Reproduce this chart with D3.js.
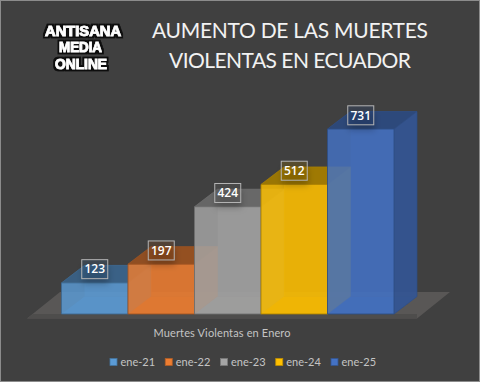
<!DOCTYPE html>
<html>
<head>
<meta charset="utf-8">
<script src="https://cdn.jsdelivr.net/npm/d3@7"></script>
<style>
  html, body { margin: 0; padding: 0; background: #404040; }
  svg { display: block; }
  text { font-family: Lato, "Open Sans", sans-serif; }
</style>
</head>
<body>
<div id="chart"></div>
<script>
// Chart data
const categories = ['ene-21', 'ene-22', 'ene-23', 'ene-24', 'ene-25'];
const values = [123, 197, 424, 512, 731];
const colors = ['#5b9bd5', '#ed7d31', '#a5a5a5', '#ffc000', '#4472c4'];
const titleLines = ['AUMENTO DE LAS MUERTES', 'VIOLENTAS EN ECUADOR'];
const logoLines = ['ANTISANA', 'MEDIA', 'ONLINE'];
const xAxisTitle = 'Muertes Violentas en Enero';

const width = 480;
const height = 382;
// offset of the back of the 3D boxes
const depthX = 23;
const depthY = -17.5;

const svg = d3.select('#chart')
  .append('svg')
  .attr('width', width)
  .attr('height', height);

const defs = svg.append('defs');
defs.append('filter')
  .attr('id', 'blur')
  .attr('x', '-50%').attr('y', '-50%')
  .attr('width', '200%').attr('height', '200%')
  .append('feGaussianBlur')
  .attr('stdDeviation', 3);

// White letters with a dark halo for the logo
const logoFilter = defs.append('filter')
  .attr('id', 'logo-outline')
  .attr('x', '-20%').attr('y', '-40%')
  .attr('width', '140%').attr('height', '180%');
logoFilter.append('feMorphology')
  .attr('in', 'SourceAlpha').attr('operator', 'dilate')
  .attr('radius', 2).attr('result', 'wide');
logoFilter.append('feFlood')
  .attr('flood-color', '#0c0c0c').attr('result', 'dark');
logoFilter.append('feComposite')
  .attr('in', 'dark').attr('in2', 'wide').attr('operator', 'in').attr('result', 'halo');
const logoMerge = logoFilter.append('feMerge');
logoMerge.append('feMergeNode').attr('in', 'halo');
logoMerge.append('feMergeNode').attr('in', 'SourceGraphic');

// Background and outer border
svg.append('rect')
  .attr('width', width)
  .attr('height', height)
  .attr('fill', '#404040');
svg.append('rect')
  .attr('x', 0.5).attr('y', 0.5)
  .attr('width', width - 1).attr('height', height - 1)
  .attr('fill', 'none')
  .attr('stroke', '#8c8c8c');

// Scales
const x = d3.scaleBand()
  .domain(categories)
  .range([61.5, 394])
  .padding(0);

const y = d3.scaleLinear()
  .domain([0, d3.max(values)])
  .range([314, 129]);

const base = y(0);

// Floor
svg.append('path')
  .attr('d', 'M27,318.5 L60,292 L450,292 L417,318.5 Z')
  .attr('fill', '#595756');
svg.append('path')
  .attr('d', 'M27,318.5 L33,314 L417,314 L417,318.5 Z')
  .attr('fill', '#4e4d4c');

function poly(points) {
  return 'M' + points.map(p => p.join(',')).join('L') + 'Z';
}

// Bars, drawn one by one so the front ones overlap the back of the earlier ones
categories.forEach((cat, i) => {
  const x0 = x(cat);
  const x1 = x0 + x.bandwidth();
  const top = y(values[i]);
  const color = colors[i];
  const edge = d3.color(color).darker(1.1);
  const g = svg.append('g').attr('stroke-linejoin', 'round');

  const faces = [
    // back
    { pts: [[x0 + depthX, top + depthY], [x1 + depthX, top + depthY], [x1 + depthX, base + depthY], [x0 + depthX, base + depthY]], fill: d3.color(color).darker(0.25), op: 0.5 },
    // left
    { pts: [[x0, top], [x0 + depthX, top + depthY], [x0 + depthX, base + depthY], [x0, base]], fill: d3.color(color).darker(0.2), op: 0.25 },
    // bottom
    { pts: [[x0, base], [x1, base], [x1 + depthX, base + depthY], [x0 + depthX, base + depthY]], fill: d3.color(color).darker(0.4), op: 0.7 },
    // right
    { pts: [[x1, top], [x1 + depthX, top + depthY], [x1 + depthX, base + depthY], [x1, base]], fill: d3.color(color).darker(0.85), op: 0.85 },
    // top
    { pts: [[x0, top], [x1, top], [x1 + depthX, top + depthY], [x0 + depthX, top + depthY]], fill: d3.color(color).darker(1.3), op: 0.9 },
    // front
    { pts: [[x0, top], [x1, top], [x1, base], [x0, base]], fill: color, op: 0.78 }
  ];

  g.selectAll('path')
    .data(faces)
    .enter()
    .append('path')
    .attr('d', d => poly(d.pts))
    .attr('fill', d => d.fill)
    .attr('fill-opacity', d => d.op)
    .attr('stroke', 'none');

  // Edges only on the faces that show them
  g.append('path')
    .attr('d', poly(faces[5].pts))
    .attr('fill', 'none')
    .attr('stroke', edge)
    .attr('stroke-opacity', 0.85);
  g.append('path')
    .attr('d', `M${x1},${top}L${x1 + depthX},${top + depthY}L${x1 + depthX},${base + depthY}L${x1},${base}`)
    .attr('fill', 'none')
    .attr('stroke', edge)
    .attr('stroke-opacity', 0.7);
  g.append('path')
    .attr('d', `M${x0},${top}L${x0 + depthX},${top + depthY}L${x1 + depthX},${top + depthY}`)
    .attr('fill', 'none')
    .attr('stroke', edge)
    .attr('stroke-opacity', 0.7);
});

// Data labels
const labels = svg.append('g');
categories.forEach((cat, i) => {
  const cx = x(cat) + x.bandwidth() / 2;
  const cy = y(values[i]) - 13.7;

  labels.append('rect')
    .attr('x', cx - 12).attr('y', cy - 3)
    .attr('width', 26).attr('height', 18)
    .attr('fill', '#000')
    .attr('fill-opacity', 0.22)
    .attr('filter', 'url(#blur)');
  labels.append('rect')
    .attr('x', cx - 13).attr('y', cy - 9.5)
    .attr('width', 26).attr('height', 19)
    .attr('fill', d3.color(colors[i]).darker(1.3))
    .attr('fill-opacity', 0.25)
    .attr('stroke', '#b4b4b4')
    .attr('stroke-width', 1);
  labels.append('text')
    .attr('x', cx).attr('y', cy + 4.2)
    .attr('text-anchor', 'middle')
    .attr('fill', '#fff')
    .attr('font-size', 12)
    .attr('font-weight', 600)
    .style('font-family', '"Open Sans", sans-serif')
    .text(values[i]);
});

// Title
svg.append('g')
  .selectAll('text')
  .data(titleLines)
  .enter()
  .append('text')
  .attr('x', 290)
  .attr('y', (d, i) => 38 + i * 29.5)
  .attr('text-anchor', 'middle')
  .attr('fill', '#f2f2f2')
  .attr('font-size', 21)
  .attr('textLength', (d, i) => [276, 242][i])
  .text(d => d);

// Logo text, stretched vertically to get the tall hand drawn letters
const logoY = [35.5, 52, 68.5];
const logoX = [83, 80.5, 81];
const logoLengths = [76, 43, 52];
const logo = svg.append('g').attr('filter', 'url(#logo-outline)');
logoLines.forEach((line, i) => {
  logo.append('text')
    .attr('transform', `translate(${logoX[i]},${logoY[i]}) scale(1,1.15)`)
    .attr('text-anchor', 'middle')
    .attr('font-weight', 700)
    .attr('font-size', 12.5)
    .attr('textLength', logoLengths[i])
    .attr('lengthAdjust', 'spacingAndGlyphs')
    .attr('fill', '#fff')
    .attr('stroke', '#fff')
    .attr('stroke-width', 0.6)
    .style('font-family', '"Liberation Sans", sans-serif')
    .text(line);
});

// Axis title
svg.append('text')
  .attr('x', 222)
  .attr('y', 337)
  .attr('text-anchor', 'middle')
  .attr('fill', '#c4c4c4')
  .attr('font-size', 11)
  .attr('textLength', 137)
  .text(xAxisTitle);

// Legend
const legendX = d3.scalePoint()
  .domain(categories)
  .range([110, 331]);

const legend = svg.append('g')
  .selectAll('g')
  .data(categories)
  .enter()
  .append('g')
  .attr('transform', d => `translate(${legendX(d)},362)`);

legend.append('rect')
  .attr('x', 0).attr('y', -3.5)
  .attr('width', 7).attr('height', 7)
  .attr('fill', (d, i) => colors[i])
  .attr('stroke', (d, i) => d3.color(colors[i]).darker(0.8))
  .attr('stroke-width', 0.8);

legend.append('text')
  .attr('x', 10.5)
  .attr('y', 4)
  .attr('fill', '#c4c4c4')
  .attr('font-size', 11)
  .text(d => d);
</script>
</body>
</html>
